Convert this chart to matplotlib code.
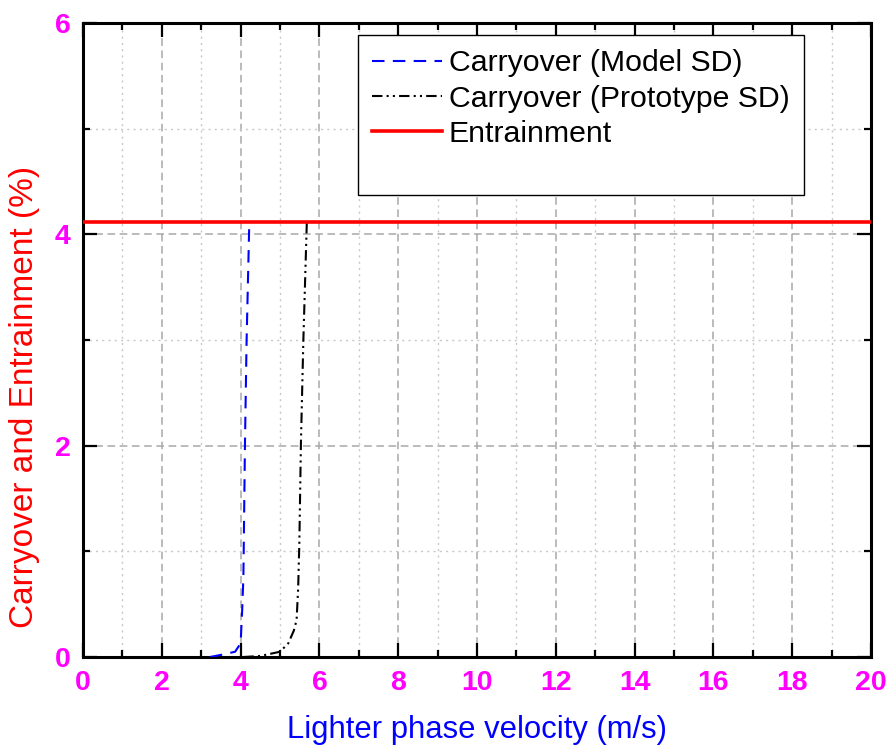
import matplotlib
matplotlib.use("Agg")
import matplotlib.pyplot as plt
from matplotlib.patches import Rectangle

plt.rcParams["font.family"] = ["Liberation Sans", "DejaVu Sans"]

# carryover curves
model_v = [3.22, 3.5, 3.86, 4.0, 4.04, 4.07, 4.11, 4.15, 4.22]
model_c = [0.0, 0.02, 0.05, 0.13, 0.45, 0.76, 2.02, 2.97, 4.12]
proto_v = [4.07, 4.5, 5.0, 5.21, 5.35, 5.42, 5.46, 5.49, 5.53, 5.59, 5.68]
proto_c = [0.0, 0.01, 0.05, 0.13, 0.25, 0.35, 0.65, 1.08, 2.02, 2.97, 4.12]
entrain_v = [0, 20]
entrain_c = [4.12, 4.12]

xticks = list(range(0, 21, 2))
yticks = [0, 2, 4, 6]

fig = plt.figure(figsize=(8.89, 7.49), dpi=100, facecolor="white")
ax = fig.add_axes([0.0934, 0.1228, 0.8864, 0.8465])

ax.plot(model_v, model_c, color="blue", lw=1.5, dashes=(6, 4),
        label="Carryover (Model SD)", zorder=3)
ax.plot(proto_v, proto_c, color="black", lw=1.5, dashes=(5, 2, 1, 2, 1, 2),
        label="Carryover (Prototype SD)", zorder=3)
ax.plot(entrain_v, entrain_c, color="red", lw=2.6, label="Entrainment", zorder=4)

ax.set_xlim(0, 20)
ax.set_ylim(0, 6)
ax.set_xticks(xticks)
ax.set_yticks(yticks)
ax.set_xticks(range(1, 20, 2), minor=True)
ax.set_yticks([1, 3, 5], minor=True)

ax.grid(which="major", color="#a8a8a8", ls=(0, (5, 3)), lw=1.1)
ax.grid(which="minor", color="#c8c8c8", ls=(0, (1.5, 3)), lw=1.0)
ax.set_axisbelow(True)

ax.tick_params(which="both", direction="in", top=True, right=True,
               colors="black", labelcolor="magenta", width=1.6)
ax.tick_params(which="major", length=10, labelsize=20.5, pad=9)
ax.tick_params(which="minor", length=5)
ax.tick_params(axis="y", pad=9)
for lab in ax.get_xticklabels() + ax.get_yticklabels():
    lab.set_fontweight("bold")
for sp in ax.spines.values():
    sp.set_linewidth(2.2)

ax.set_xlabel("Lighter phase velocity (m/s)", color="blue", fontsize=22.3)
ax.set_ylabel("Carryover and Entrainment (%)", color="red", fontsize=24)
ax.xaxis.set_label_coords(0.5, -0.091)
ax.yaxis.set_label_coords(-0.054, 0.41)

# legend box drawn separately (it is taller than its entries)
ax.add_patch(Rectangle((0.349, 0.729), 0.566, 0.252, transform=ax.transAxes,
                       facecolor="white", edgecolor="black", lw=1.0, zorder=5))
leg = ax.legend(loc="upper left", bbox_to_anchor=(0.349, 0.981), frameon=False,
                fontsize=21.8, handlelength=2.3, handletextpad=0.22,
                labelspacing=0.24, borderaxespad=0, borderpad=0.47)
leg.set_zorder(6)

fig.savefig("out.png", dpi=100, facecolor="white")
